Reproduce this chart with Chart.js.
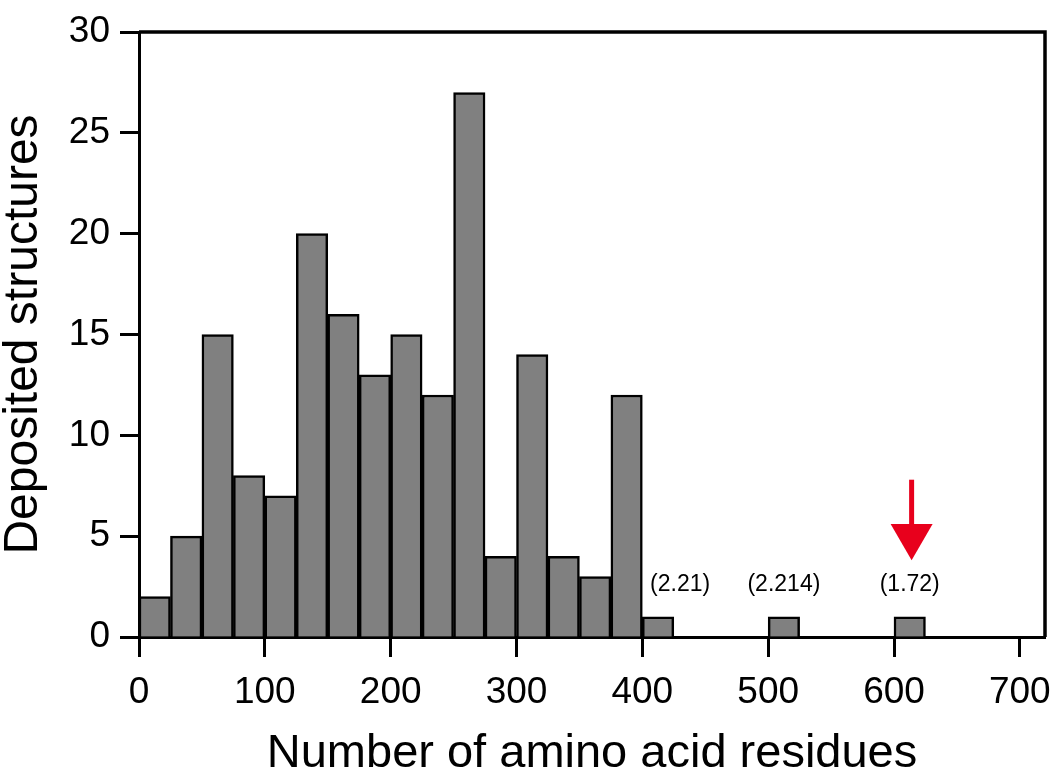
<!DOCTYPE html>
<html>
<head>
<meta charset="utf-8">
<script src="https://cdn.jsdelivr.net/npm/chart.js@4/dist/chart.umd.min.js"></script>
<style>
  html, body { margin: 0; padding: 0; background: #fff; }
  #wrap { width: 1056px; height: 772px; }
</style>
</head>
<body>
<div id="wrap"><canvas id="histChart" width="1056" height="772"></canvas></div>
<script>
// histogram bins (start of each 25-residue bin) and counts
const binWidth = 25;
const binStarts = [0, 25, 50, 75, 100, 125, 150, 175, 200, 225, 250, 275, 300, 325, 350, 375, 400, 500, 600];
const counts = [2, 5, 15, 8, 7, 20, 16, 13, 15, 12, 27, 4, 14, 4, 3, 12, 1, 1, 1];

// resolution labels above the large structures
const noteX = [430, 512.5, 612.5];
const noteY = [2.6, 2.6, 2.6];
const noteText = ['(2.21)', '(2.214)', '(1.72)'];

// red arrow (data units)
const arrowX = 614;
const arrowTop = 7.8;
const arrowHeadBase = 5.6;
const arrowTip = 3.8;

const fontFamily = "'Liberation Sans', Arial, sans-serif";

const framePlugin = {
    id: 'frame',
    afterDatasetsDraw(chart) {
        const { ctx, chartArea: a, scales } = chart;
        ctx.save();
        ctx.strokeStyle = '#000';
        ctx.lineWidth = 3.5;
        ctx.beginPath();
        ctx.moveTo(a.left, a.top);
        ctx.lineTo(a.right, a.top);
        ctx.lineTo(a.right, a.bottom);
        ctx.stroke();

        ctx.fillStyle = '#000';
        ctx.font = '23px ' + fontFamily;
        ctx.textAlign = 'center';
        ctx.textBaseline = 'middle';
        noteText.forEach((t, i) => {
            ctx.fillText(t, scales.x.getPixelForValue(noteX[i]), scales.y.getPixelForValue(noteY[i]));
        });

        const ax = scales.x.getPixelForValue(arrowX);
        const yTop = scales.y.getPixelForValue(arrowTop);
        const yBase = scales.y.getPixelForValue(arrowHeadBase);
        const yTip = scales.y.getPixelForValue(arrowTip);
        ctx.strokeStyle = '#e8001c';
        ctx.fillStyle = '#e8001c';
        ctx.lineWidth = 5;
        ctx.beginPath();
        ctx.moveTo(ax, yTop);
        ctx.lineTo(ax, yBase + 2);
        ctx.stroke();
        ctx.beginPath();
        ctx.moveTo(ax - 21, yBase);
        ctx.lineTo(ax + 21, yBase);
        ctx.lineTo(ax, yTip);
        ctx.closePath();
        ctx.fill();
        ctx.restore();
    }
};

new Chart(document.getElementById('histChart'), {
    type: 'bar',
    data: {
        datasets: [{
            data: binStarts.map((s, i) => ({ x: s + binWidth / 2, y: counts[i] })),
            backgroundColor: '#808080',
            borderColor: '#000',
            borderWidth: 2.5,
            barPercentage: 1,
            categoryPercentage: 1
        }]
    },
    options: {
        responsive: false,
        animation: false,
        layout: { padding: { top: 32, right: 11, left: 0, bottom: 0 } },
        plugins: {
            legend: { display: false },
            tooltip: { enabled: false }
        },
        scales: {
            x: {
                type: 'linear',
                min: 0,
                max: 720,
                offset: false,
                afterFit: s => { s.height = 135; s.paddingRight = 0; s.paddingLeft = 0; },
                border: { display: true, color: '#000', width: 3 },
                grid: {
                    offset: false,
                    drawOnChartArea: false,
                    drawTicks: true,
                    tickLength: 20,
                    tickWidth: 3,
                    tickColor: '#000'
                },
                ticks: {
                    stepSize: 100,
                    includeBounds: false,
                    maxRotation: 0,
                    padding: 14,
                    color: '#000',
                    font: { family: fontFamily, size: 37 }
                },
                title: {
                    display: true,
                    text: 'Number of amino acid residues',
                    color: '#000',
                    font: { family: fontFamily, size: 47, lineHeight: 0.75 },
                    padding: { top: 0, bottom: 0 }
                }
            },
            y: {
                min: 0,
                max: 30,
                afterFit: s => { s.width = 139; s.paddingTop = 0; s.paddingBottom = 0; },
                border: { display: true, color: '#000', width: 3 },
                grid: {
                    drawOnChartArea: false,
                    drawTicks: true,
                    tickLength: 19,
                    tickWidth: 3,
                    tickColor: '#000'
                },
                ticks: {
                    stepSize: 5,
                    padding: 10,
                    color: '#000',
                    font: { family: fontFamily, size: 37 }
                },
                title: {
                    display: true,
                    text: 'Deposited structures',
                    color: '#000',
                    font: { family: fontFamily, size: 48, lineHeight: 1 },
                    padding: { top: 0, bottom: 0 }
                }
            }
        }
    },
    plugins: [framePlugin]
});
</script>
</body>
</html>
